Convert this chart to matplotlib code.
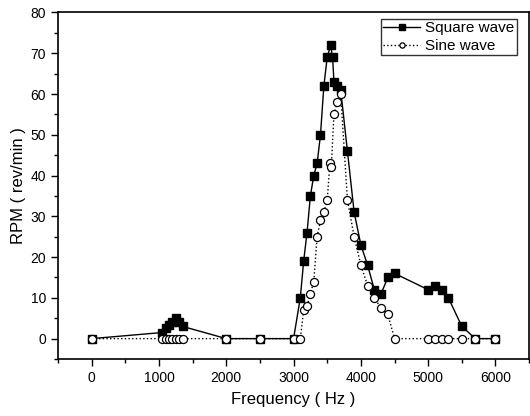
import matplotlib
matplotlib.use("Agg")
import matplotlib.pyplot as plt
from matplotlib.ticker import MultipleLocator

plt.rcParams['font.family'] = ['Liberation Sans', 'DejaVu Sans']

square_freq = [0, 1050, 1100, 1150, 1200, 1250, 1300, 1350, 2000, 2500, 3000,
               3100, 3150, 3200, 3250, 3300, 3350, 3400, 3450, 3500, 3550, 3580,
               3600, 3650, 3700, 3800, 3900, 4000, 4100, 4200, 4300, 4400, 4500,
               5000, 5100, 5200, 5300, 5500, 5700, 6000]
square_rpm = [0, 1.5, 2.5, 3.3, 4, 5, 4.2, 3, 0, 0, 0,
              10, 19, 26, 35, 40, 43, 50, 62, 69, 72, 69,
              63, 62, 61, 46, 31, 23, 18, 12, 11, 15, 16,
              12, 13, 12, 10, 3, 0, 0]

sine_freq = [0, 1050, 1100, 1150, 1200, 1250, 1300, 1350, 2000, 2500, 3000,
             3100, 3150, 3200, 3250, 3300, 3350, 3400, 3450, 3500, 3540, 3560,
             3600, 3650, 3700, 3800, 3900, 4000, 4100, 4200, 4300, 4400, 4500,
             5000, 5100, 5200, 5300, 5500, 5700, 6000]
sine_rpm = [0, 0, 0, 0, 0, 0, 0, 0, 0, 0, 0,
            0, 7, 8, 11, 14, 25, 29, 31, 34, 43, 42,
            55, 58, 60, 34, 25, 18, 13, 10, 7.5, 6, 0,
            0, 0, 0, 0, 0, 0, 0]

fig = plt.figure(figsize=(5.3, 4.16), dpi=100)
ax = fig.add_axes([0.1094, 0.137, 0.889, 0.833])

ax.plot(square_freq, square_rpm, '-', color='black', lw=1.0,
        marker='s', markersize=5.8, markerfacecolor='black',
        markeredgecolor='black', label='Square wave', zorder=2)
ax.plot(sine_freq, sine_rpm, ':', color='black', lw=1.0,
        marker='o', markersize=5.8, markerfacecolor='white',
        markeredgecolor='black', markeredgewidth=0.9, label='Sine wave', zorder=3)

ax.set_xlim(-500, 6500)
ax.set_ylim(-5, 80)
ax.xaxis.set_major_locator(MultipleLocator(1000))
ax.xaxis.set_minor_locator(MultipleLocator(500))
ax.yaxis.set_major_locator(MultipleLocator(10))
ax.yaxis.set_minor_locator(MultipleLocator(5))
ax.set_yticks([0, 10, 20, 30, 40, 50, 60, 70, 80])

ax.tick_params(which='major', direction='out', length=5, width=1, labelsize=10)
ax.tick_params(which='minor', direction='out', length=3, width=1)
for s in ax.spines.values():
    s.set_linewidth(1.2)

ax.set_xlabel('Frequency ( Hz )', fontsize=12, labelpad=5)
ax.set_ylabel('RPM ( rev/min )', fontsize=12, labelpad=3)

leg = ax.legend(loc='upper right', fontsize=11, frameon=True, fancybox=False,
                edgecolor='black', borderpad=0.15, labelspacing=0.25,
                handlelength=2.4, handletextpad=0.35, borderaxespad=0.0,
                numpoints=1, markerscale=0.65,
                bbox_to_anchor=(517 / 530, 1 - 19 / 416),
                bbox_transform=fig.transFigure)
leg.get_frame().set_linewidth(1.0)

fig.savefig('out.png', dpi=100)
